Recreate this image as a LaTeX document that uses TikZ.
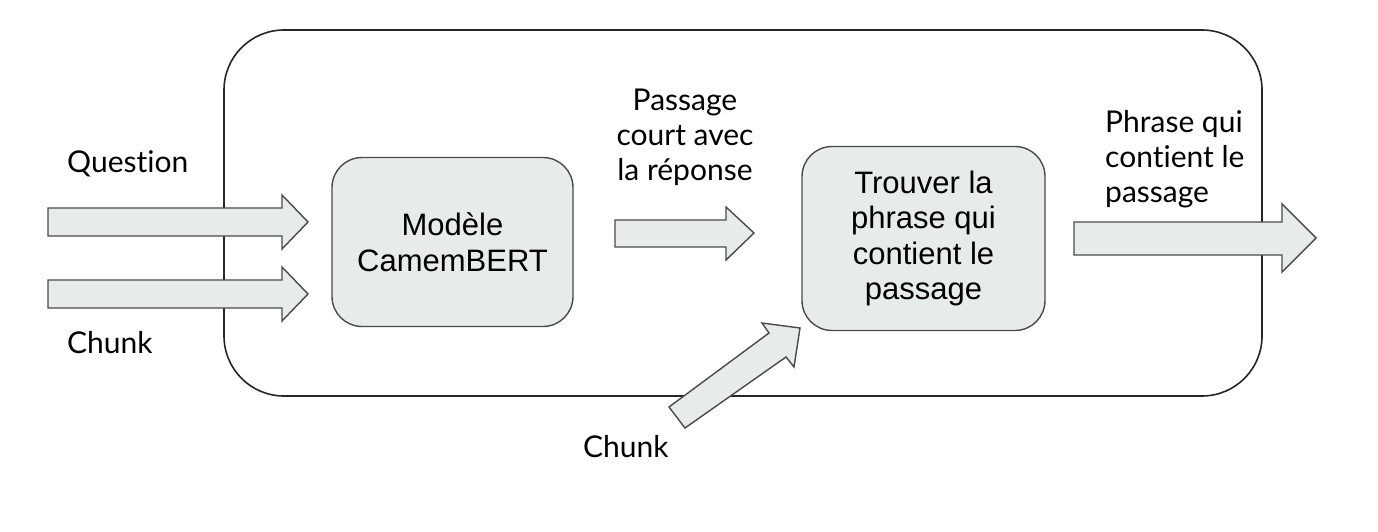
\documentclass[tikz,border=0pt]{standalone}
\usepackage{fontspec}
\setmainfont{Liberation Sans}
\newfontfamily\lato[Ligatures={NoCommon,NoRare}]{Lato}
\definecolor{boxfill}{HTML}{E8EBEC}
\definecolor{boxline}{HTML}{4A4A4A}
\definecolor{frameline}{HTML}{262626}
\begin{document}
\begin{tikzpicture}[x=1pt,y=-1pt,
  blockarrow/.style={fill=boxfill,draw=boxline,line width=1.4pt,line join=miter},
  procbox/.style={draw=boxline,fill=boxfill,line width=1.4pt,rounded corners=30pt,
    align=center,font=\fontsize{31}{35.5}\selectfont,inner sep=0pt},
  lbl/.style={font=\lato\fontsize{30}{35}\selectfont,inner sep=0pt}]
\useasboundingbox (0,0) rectangle (1378,532);
% frame
\node[draw=frameline,line width=1.6pt,rounded corners=60pt,minimum width=1038pt,minimum height=366pt,inner sep=0pt] (frame) at (743,213) {};
% boxes
\node[procbox,minimum width=241pt,minimum height=169pt] (model) at (452.5,242) {Modèle\\CamemBERT};
\node[procbox,minimum width=243pt,minimum height=184pt] (find) at (923.5,238.5) {Trouver la\\phrase qui\\contient le\\passage};
% arrows
\draw[blockarrow] (48,208) -- (282,208) -- (282,195) -- (308,222) -- (282,249) -- (282,236) -- (48,236) -- cycle;
\draw[blockarrow] (48,280) -- (282,280) -- (282,267) -- (308,294) -- (282,321) -- (282,308) -- (48,308) -- cycle;
\draw[blockarrow] (615,220) -- (726,220) -- (726,207) -- (754,233) -- (726,260) -- (726,247) -- (615,247) -- cycle;
\draw[blockarrow] (1074,222) -- (1282,222) -- (1282,204) -- (1316,238) -- (1282,272) -- (1282,255) -- (1074,255) -- cycle;
\draw[blockarrow] (669,407) -- (769,333) -- (762,323) -- (800,328) -- (794,367) -- (786,357) -- (685,428) -- cycle;
% labels
\node[lbl,anchor=base west] (q) at (67,172) {Question};
\node[lbl,anchor=base west] (c1) at (67,353) {Chunk};
\node[lbl,anchor=base west] (c2) at (583,457) {Chunk};
\node[lbl,anchor=base,align=center] (pc) at (685,180) {Passage\\court avec\\la réponse};
\node[lbl,anchor=base west,align=left] (pq) at (1105,202) {Phrase qui\\contient le\\passage};
\end{tikzpicture}
\end{document}
